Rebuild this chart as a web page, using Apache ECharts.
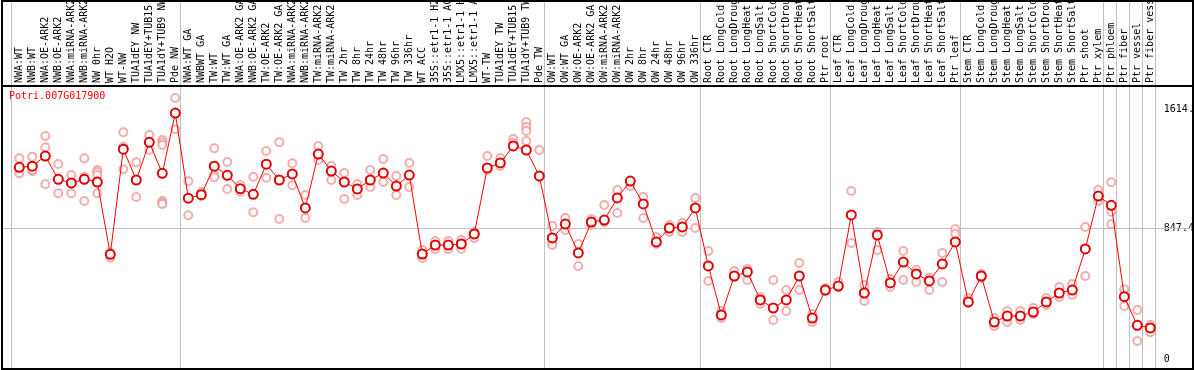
<!DOCTYPE html>
<html><head><meta charset="utf-8">
<script src="https://cdn.jsdelivr.net/npm/echarts@6/dist/echarts.min.js"></script>
<style>html,body{margin:0;padding:0;background:#fff}#c{width:1194px;height:370px}</style>
</head><body><div id="c"></div>
<script>
const titleText = 'Potri.007G017900';
const categories = ['NWA:WT','NWB:WT','NWA:OE-ARK2','NWB:OE-ARK2','NWA:miRNA-ARK2','NWB:miRNA-ARK2','NW 0hr','WT H2O','WT-NW','TUA1dEY NW','TUA1dEY+TUB15 NW','TUA1dY+TUB9 NW','Pde NW',
'NWA:WT GA','NWBWT GA','TW:WT','TW:WT GA','NWA:OE-ARK2 GA','NWB:OE-ARK2 GA','TW:OE-ARK2','TW:OE-ARK2 GA','NWA:miRNA-ARK2 GA','NWB:miRNA-ARK2 GA','TW:miRNA-ARK2','TW:miRNA-ARK2 ','TW 2hr','TW 8hr','TW 24hr','TW 48hr','TW 96hr','TW 336hr','WT ACC','35S::etr1-1 H2O','35S::etr1-1 ACC','LMX5::etr1-1 H2O','LMX5::etr1-1 ACC','WT-TW','TUA1dEY TW','TUA1dEY+TUB15 TW','TUA1dY+TUB9 TW','Pde TW',
'OW:WT','OW:WT GA','OW:OE-ARK2','OW:OE-ARK2 GA','OW:miRNA-ARK2','OW:miRNA-ARK2 GA','OW 2hr','OW 8hr','OW 24hr','OW 48hr','OW 96hr','OW 336hr',
'Root CTR','Root LongCold','Root LongDrought','Root LongHeat','Root LongSalt','Root ShortCold','Root ShortDrought','Root ShortHeat','Root ShortSalt','Ptr root',
'Leaf CTR','Leaf LongCold','Leaf LongDrought','Leaf LongHeat','Leaf LongSalt','Leaf ShortCold','Leaf ShortDrought','Leaf ShortHeat','Leaf ShortSalt','Ptr leaf',
'Stem CTR','Stem LongCold','Stem LongDrought','Stem LongHeat','Stem LongSalt','Stem ShortCold','Stem ShortDrought','Stem ShortHeat','Stem ShortSalt','Ptr shoot','Ptr xylem',
'Ptr phloem','Ptr fiber','Ptr vessel','Ptr fiber vessel'];

const meanValues = [1240,1247,1313,1162,1139,1162,1145,677,1357,1158,1402,1201,1591,
1040,1063,1247,1188,1102,1065,1260,1158,1197,977,1326,1216,1145,1100,1158,1203,1119,1190,679,737,737,744,809,1236,1268,1378,1352,1184,
783,873,686,886,899,1042,1151,1003,757,847,854,977,
602,285,537,563,382,330,382,537,265,446,
472,932,427,802,492,627,550,505,615,757,
369,537,239,278,278,304,369,427,446,712,1054,
994,403,218,201];

const sampleValues = [
[1298,1229,1201],[1309,1216,1223],[1443,1370,1130],[1261,1072],[1190,1072,1139],[1298,1179,1022],[1223,1210,1190,1072],[688,655],[1467,1373,1227],[1272,1048],[1449,1352],[1417,1401,1384,1022,1011,1003],[1688,1486],
[1150,930],[1080,1054],[1363,1190,1175],[1274,1100],[1126,1082],[1179,949],[1346,1173],[1402,906],[1266,1124],[1061,912],[1378,1287],[1249,1158],[1203,1035],[1132,1061],[1223,1113],[1294,1145],[1184,1061],[1268,1113],[705,653],[763,712],[763,712],[770,712],[822,783],[1313,1223],[1300,1249],[1423,1397],[1533,1501,1475,1410],[1352,1177],
[860,750,737],[912,834],[744,602],[906,867],[996,886],[1093,944],[1151,1119],[1048,912],[789,744],[867,822],[880,822],[1042,847],
[699,505],[311,265],[569,530],[582,511],[401,356],[511,252],[446,311],[621,446],[291,239],[459,440],
[498,466],[1087,750],[479,375],[822,705],[518,466],[699,511],[576,498],[524,446],[686,498],[841,809],
[395,362],[550,524],[265,213],[311,239],[311,252],[330,291],[395,349],[466,401],[485,414],[854,537],[1093,1022],
[1143,953,871],[451,343],[317,116],[220,173]];

const yTickValues = [0, 847.4, 1614];
const yTickLabels = ['0', '847.4', '1614.8'];
const midLineValue = 847.4;
const separatorsBefore = [0,13,41,53,63,73,84,85,86,87,88];

const mono = 'DejaVu Sans Mono';
const chart = echarts.init(document.getElementById('c'), null, {renderer:'canvas'});

const sampleData = [];
sampleValues.forEach((arr, i) => arr.forEach(v => sampleData.push([i, v])));

const option = {
  animation: false,
  title: {text: titleText, left: 9, top: 91, padding: 0, z: 10,
    textStyle: {color: '#ff0000', fontFamily: mono, fontSize: 10, fontWeight: 'normal'}},
  grid: {left: 12.8, right: 37.2, top: 86, bottom: 11, containLabel: false, outerBoundsMode: 'none'},
  xAxis: {type: 'category', data: categories, position: 'top', boundaryGap: true,
    axisLine: {show: false}, axisTick: {show: false}, splitLine: {show: false},
    axisLabel: {interval: 0, rotate: 90, margin: 3, color: '#000', fontFamily: mono, fontSize: 10, hideOverlap: false}},
  yAxis: {type: 'value', position: 'right', min: 0, max: 1766,
    axisLine: {show: false}, axisTick: {show: false}, splitLine: {show: false},
    axisLabel: {customValues: yTickValues, margin: 7, align: 'left', color: '#000', fontFamily: mono, fontSize: 10,
      formatter: v => { const k = yTickValues.indexOf(v); return k >= 0 ? yTickLabels[k] : ''; }}},
  series: [
    {type: 'custom', name: 'grid lines', z: 1, silent: true, clip: false,
      data: separatorsBefore.map(v => [v]),
      renderItem: (params, api) => {
        const idx = api.value(0);
        const base = Math.min(idx, categories.length - 1);
        const band = api.size([1, 0])[0];
        let x = api.coord([base, 0])[0] + (idx - base) * band - 0.66 * band;
        x = Math.round(x) + 0.5;
        const children = [{type: 'line', shape: {x1: x, y1: 0, x2: x, y2: api.getHeight()},
          style: {stroke: '#c0c0c0', lineWidth: 1}}];
        if (params.dataIndex === 0) {
          const y = Math.round(api.coord([0, midLineValue])[1]) + 0.5;
          children.push({type: 'line', shape: {x1: 1, y1: y, x2: api.getWidth() - 1, y2: y},
            style: {stroke: '#c0c0c0', lineWidth: 1}});
        }
        return {type: 'group', children};
      }},
    {type: 'scatter', name: 'samples', z: 2, data: sampleData, symbol: 'emptyCircle', symbolSize: 8,
      itemStyle: {color: '#f09898', borderColor: '#f09898', borderWidth: 1.2}},
    {type: 'line', name: 'mean', z: 3, data: meanValues, symbol: 'emptyCircle', symbolSize: 9,
      lineStyle: {color: '#ff0000', width: 1},
      itemStyle: {color: '#e00000', borderColor: '#e00000', borderWidth: 1.8}}
  ],
  graphic: [
    {type: 'rect', z: 100, shape: {x: 2, y: 1, width: 1191, height: 368}, style: {fill: 'none', stroke: '#000', lineWidth: 2}},
    {type: 'line', z: 100, shape: {x1: 1, y1: 86, x2: 1193, y2: 86}, style: {stroke: '#000', lineWidth: 2}}
  ]
};
chart.setOption(option);
</script></body></html>
